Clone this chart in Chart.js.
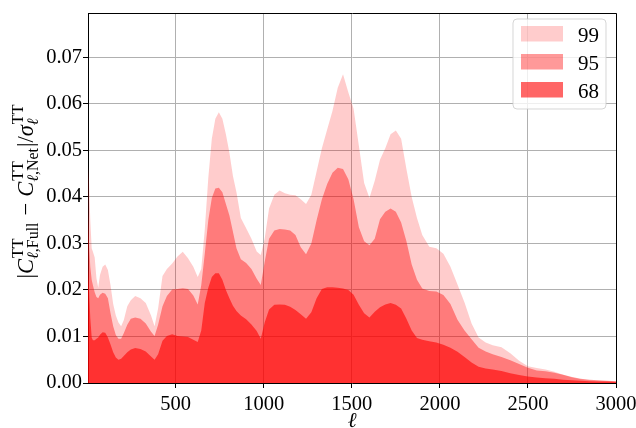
<!DOCTYPE html>
<html>
<head>
<meta charset="utf-8">
<script src="https://cdn.jsdelivr.net/npm/chart.js@4.4.1/dist/chart.umd.min.js"></script>
<style>
  html, body { margin: 0; padding: 0; background: #fff; }
  #wrap { width: 636px; height: 428px; position: relative; }
</style>
</head>
<body>
<div id="wrap"><canvas id="c"></canvas></div>
<script>
// ---- data ----
const ells = [2, 8, 15, 23, 30, 40, 50, 60, 70, 85, 100, 115, 130, 145, 160, 175, 190, 205, 225, 245, 270, 300, 330, 360, 380, 400, 425, 450, 480, 510, 540, 570, 600, 625, 645, 665, 685, 705, 725, 745, 765, 785, 805, 825, 845, 870, 900, 930, 960, 983, 1005, 1030, 1060, 1090, 1120, 1150, 1180, 1210, 1240, 1270, 1300, 1330, 1360, 1390, 1420, 1450, 1480, 1510, 1540, 1570, 1600, 1630, 1660, 1690, 1720, 1750, 1780, 1810, 1840, 1870, 1900, 1940, 1980, 2020, 2060, 2100, 2140, 2180, 2220, 2260, 2300, 2350, 2400, 2450, 2500, 2550, 2600, 2650, 2700, 2750, 2800, 2850, 2900, 2950, 3000];

const p99 = [0.0466, 0.0430, 0.0350, 0.0290, 0.0282, 0.0270, 0.0225, 0.0205, 0.0232, 0.0250, 0.0255, 0.0243, 0.0210, 0.0170, 0.0145, 0.0130, 0.0122, 0.0135, 0.0165, 0.0178, 0.0187, 0.0182, 0.0172, 0.0145, 0.0122, 0.0160, 0.0230, 0.0245, 0.0257, 0.0272, 0.0282, 0.0268, 0.0250, 0.0228, 0.0245, 0.0330, 0.0441, 0.0525, 0.0568, 0.0582, 0.0568, 0.0535, 0.0495, 0.0445, 0.0410, 0.0355, 0.0333, 0.0310, 0.0283, 0.0275, 0.0310, 0.0375, 0.0405, 0.0414, 0.0408, 0.0405, 0.0404, 0.0395, 0.0385, 0.0405, 0.0455, 0.0505, 0.0545, 0.0585, 0.0635, 0.0664, 0.0625, 0.0590, 0.0510, 0.0430, 0.0398, 0.0435, 0.0480, 0.0505, 0.0535, 0.0543, 0.0525, 0.0460, 0.0400, 0.0355, 0.0318, 0.0293, 0.0290, 0.0278, 0.0250, 0.0212, 0.0173, 0.0128, 0.0098, 0.0087, 0.0081, 0.0077, 0.0064, 0.0048, 0.0036, 0.0032, 0.0029, 0.0024, 0.0018, 0.0012, 0.0008, 0.0006, 0.0005, 0.0004, 0.0004];

const p95 = [0.0367, 0.0300, 0.0250, 0.0222, 0.0210, 0.0195, 0.0185, 0.0182, 0.0190, 0.0194, 0.0192, 0.0182, 0.0150, 0.0122, 0.0103, 0.0095, 0.0095, 0.0107, 0.0125, 0.0138, 0.0141, 0.0138, 0.0128, 0.0110, 0.0101, 0.0125, 0.0165, 0.0187, 0.0201, 0.0202, 0.0204, 0.0202, 0.0188, 0.0169, 0.0210, 0.0278, 0.0350, 0.0398, 0.0418, 0.0420, 0.0410, 0.0385, 0.0360, 0.0325, 0.0290, 0.0266, 0.0258, 0.0245, 0.0224, 0.0211, 0.0260, 0.0310, 0.0328, 0.0331, 0.0330, 0.0328, 0.0318, 0.0292, 0.0277, 0.0300, 0.0350, 0.0395, 0.0428, 0.0452, 0.0463, 0.0460, 0.0438, 0.0395, 0.0335, 0.0305, 0.0296, 0.0310, 0.0352, 0.0368, 0.0375, 0.0368, 0.0345, 0.0305, 0.0255, 0.0222, 0.0203, 0.0198, 0.0197, 0.0189, 0.0170, 0.0136, 0.0113, 0.0094, 0.0076, 0.0068, 0.0062, 0.0056, 0.0049, 0.0041, 0.0033, 0.0027, 0.0025, 0.0022, 0.0018, 0.0013, 0.0009, 0.0007, 0.0006, 0.0005, 0.0004];

const p68 = [0.0246, 0.0200, 0.0140, 0.0098, 0.0092, 0.0092, 0.0095, 0.0098, 0.0104, 0.0109, 0.0108, 0.0098, 0.0083, 0.0066, 0.0055, 0.0050, 0.0052, 0.0058, 0.0066, 0.0072, 0.0075, 0.0073, 0.0068, 0.0057, 0.0050, 0.0062, 0.0091, 0.0101, 0.0105, 0.0101, 0.0100, 0.0099, 0.0093, 0.0088, 0.0113, 0.0172, 0.0205, 0.0228, 0.0236, 0.0236, 0.0222, 0.0200, 0.0182, 0.0166, 0.0155, 0.0145, 0.0137, 0.0126, 0.0112, 0.0095, 0.0130, 0.0158, 0.0168, 0.0169, 0.0168, 0.0164, 0.0157, 0.0148, 0.0138, 0.0152, 0.0182, 0.0202, 0.0206, 0.0206, 0.0205, 0.0203, 0.0200, 0.0190, 0.0168, 0.0150, 0.0141, 0.0153, 0.0163, 0.0169, 0.0172, 0.0168, 0.0160, 0.0138, 0.0113, 0.0097, 0.0093, 0.0090, 0.0087, 0.0082, 0.0076, 0.0067, 0.0056, 0.0044, 0.0035, 0.0031, 0.0029, 0.0026, 0.0021, 0.0017, 0.0014, 0.0012, 0.0010, 0.0009, 0.0007, 0.0006, 0.0005, 0.0004, 0.0003, 0.0003, 0.0002];

const seriesLabels = ['99', '95', '68'];
const xTicks = [500, 1000, 1500, 2000, 2500, 3000];
const yTicks = [0.00, 0.01, 0.02, 0.03, 0.04, 0.05, 0.06, 0.07];

// ---- styling ----
const MATH = '"Liberation Serif", "DejaVu Serif", serif';
const fills = ['rgba(255,0,0,0.2)', 'rgba(255,0,0,0.4)', 'rgba(255,0,0,0.6)'];
const seriesValues = [p99, p95, p68];

const datasets = seriesValues.map((vals, k) => ({
  label: seriesLabels[k],
  data: ells.map((x, i) => ({ x: x, y: vals[i] })),
  backgroundColor: fills[k],
  borderWidth: 0,
  borderColor: 'rgba(0,0,0,0)',
  pointRadius: 0,
  fill: 'origin',
  tension: 0
}));

const framePlugin = {
  id: 'frameAndText',
  afterDraw(chart) {
    const ctx = chart.ctx;
    const a = chart.chartArea;
    ctx.save();
    // top and right spines
    ctx.strokeStyle = '#000';
    ctx.lineWidth = 1;
    ctx.beginPath();
    ctx.moveTo(Math.round(a.left) + 0.5, Math.round(a.top) + 0.5);
    ctx.lineTo(Math.round(a.right) + 0.5, Math.round(a.top) + 0.5);
    ctx.lineTo(Math.round(a.right) + 0.5, Math.round(a.bottom) + 0.5);
    ctx.stroke();

    // legend
    const bx = 513, by = 19, bw = 93, bh = 90, rad = 4;
    ctx.beginPath();
    ctx.moveTo(bx + rad, by);
    ctx.lineTo(bx + bw - rad, by);
    ctx.quadraticCurveTo(bx + bw, by, bx + bw, by + rad);
    ctx.lineTo(bx + bw, by + bh - rad);
    ctx.quadraticCurveTo(bx + bw, by + bh, bx + bw - rad, by + bh);
    ctx.lineTo(bx + rad, by + bh);
    ctx.quadraticCurveTo(bx, by + bh, bx, by + bh - rad);
    ctx.lineTo(bx, by + rad);
    ctx.quadraticCurveTo(bx, by, bx + rad, by);
    ctx.closePath();
    ctx.fillStyle = 'rgba(255,255,255,0.8)';
    ctx.fill();
    ctx.strokeStyle = 'rgba(204,204,204,0.8)';
    ctx.stroke();
    const rowY = [26, 54, 82];
    chart.data.datasets.forEach((ds, k) => {
      ctx.fillStyle = ds.backgroundColor;
      ctx.fillRect(521, rowY[k], 42, 15.5);
      ctx.fillStyle = '#000';
      ctx.font = '21px ' + MATH;
      ctx.textBaseline = 'alphabetic';
      ctx.textAlign = 'left';
      ctx.fillText(ds.label, 578, rowY[k] + 15.5);
    });

    // x title
    ctx.font = 'italic 21px ' + MATH;
    ctx.textAlign = 'center';
    ctx.textBaseline = 'alphabetic';
    ctx.fillStyle = '#000';
    ctx.fillText('ℓ', (a.left + a.right) / 2, 427);

    // y title (rotated, with super/subscripts)
    const FR = '22.5px ' + MATH, FI = 'italic 22.5px ' + MATH;
    const fr = '16px ' + MATH, fi = 'italic 16px ' + MATH;
    const parts = [
      { runs: [['|', FR]] },
      { runs: [['C', FI]] },
      { sup: [['TT', fr]], sub: [['ℓ', fi], [',Full', fr]] },
      { gap: 6 },
      { runs: [['−', FR]] },
      { gap: 6 },
      { runs: [['C', FI]] },
      { sup: [['TT', fr]], sub: [['ℓ', fi], [',Net', fr]] },
      { runs: [['|', FR]] },
      { runs: [['/', FR]] },
      { runs: [['σ', FI]] },
      { sup: [['TT', fr]], sub: [['ℓ', fi]] }
    ];
    const runW = (runs) => runs.reduce((s, q) => { ctx.font = q[1]; return s + ctx.measureText(q[0]).width; }, 0);
    const widths = parts.map(p => p.gap ? p.gap : p.runs ? runW(p.runs) : Math.max(runW(p.sup), runW(p.sub)) + 1);
    const total = widths.reduce((s, w) => s + w, 0);
    ctx.translate(33, 191.5);
    ctx.rotate(-Math.PI / 2);
    ctx.textAlign = 'left';
    let xp = -total / 2;
    const drawRuns = (runs, x0, dy) => {
      let xx = x0;
      runs.forEach(q => { ctx.font = q[1]; ctx.fillText(q[0], xx, dy); xx += ctx.measureText(q[0]).width; });
    };
    parts.forEach((p, k) => {
      if (p.runs) drawRuns(p.runs, xp, 0);
      else if (p.sup) { drawRuns(p.sup, xp + 1, -10); drawRuns(p.sub, xp, 5); }
      xp += widths[k];
    });
    ctx.restore();
  }
};

new Chart(document.getElementById('c'), {
  type: 'line',
  data: { datasets: datasets },
  options: {
    responsive: true,
    maintainAspectRatio: false,
    animation: false,
    layout: { padding: { top: 8, right: 20, left: 0, bottom: 0 } },
    plugins: { legend: { display: false }, tooltip: { enabled: false } },
    elements: { line: { borderWidth: 0 } },
    scales: {
      x: {
        type: 'linear',
        min: 2,
        max: 3000,
        z: 1,
        afterFit(scale) { scale.height = 45; scale.paddingLeft = 0; scale.paddingRight = 0; },
        afterBuildTicks(scale) { scale.ticks = xTicks.map(v => ({ value: v })); },
        grid: { color: '#b0b0b0', lineWidth: 1, tickColor: '#000', tickLength: 5, drawTicks: true },
        border: { color: '#000', width: 1 },
        ticks: {
          font: { family: MATH, size: 20.5 },
          color: '#000',
          padding: 4,
          maxRotation: 0,
          autoSkip: false,
          callback: (v) => String(v)
        }
      },
      y: {
        type: 'linear',
        min: 0,
        max: 0.0795,
        z: 1,
        afterFit(scale) { scale.width = 88; },
        afterBuildTicks(scale) { scale.ticks = yTicks.map(v => ({ value: v })); },
        grid: { color: '#b0b0b0', lineWidth: 1, tickColor: '#000', tickLength: 5, drawTicks: true },
        border: { color: '#000', width: 1 },
        ticks: {
          font: { family: MATH, size: 20.5 },
          color: '#000',
          padding: 1,
          autoSkip: false,
          callback: (v) => Number(v).toFixed(2)
        }
      }
    }
  },
  plugins: [framePlugin]
});
</script>
</body>
</html>
